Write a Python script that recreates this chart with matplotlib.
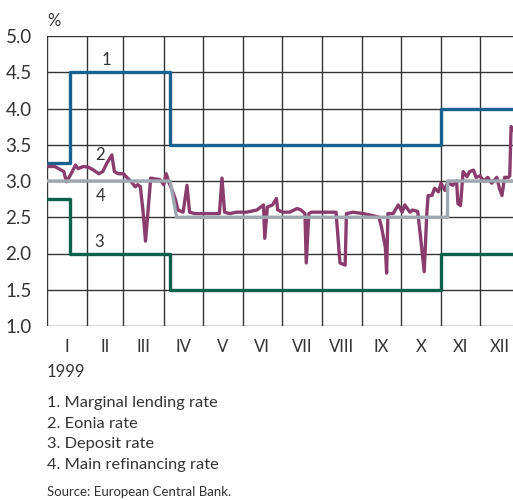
import numpy as np
import matplotlib.pyplot as plt

plt.rcParams['font.family'] = ['Lato', 'DejaVu Sans']

# day of year 1999 (0 = 1 Jan)
month_starts = [0, 31, 59, 90, 120, 151, 181, 212, 243, 273, 304, 334, 365]
month_labels = ['I', 'II', 'III', 'IV', 'V', 'VI', 'VII', 'VIII', 'IX', 'X', 'XI', 'XII']

# standing facilities and MRO (step changes)
lending_days = [0, 18, 95, 304, 362]
lending_vals = [3.25, 4.5, 3.5, 4.0, 4.0]
deposit_days = [0, 18, 95, 304, 362]
deposit_vals = [2.75, 2.0, 1.5, 2.0, 2.0]
mro_days = [0, 95, 100, 309, 309, 362]
mro_vals = [3.0, 3.0, 2.5, 2.5, 3.0, 3.0]

# eonia
eonia_days = [0, 6, 13, 15, 18, 22, 24, 28, 32, 36, 40, 43, 46, 50, 52, 55, 59, 61, 65, 68,
              70, 72, 74, 76, 78, 80, 83, 87, 90, 92, 94, 96, 99, 101, 105, 108, 110, 114, 118, 126,
              133, 135, 137, 141, 146, 154, 162, 167, 168, 170, 174, 177, 178, 182, 187, 193, 196, 199, 200, 202,
              204, 208, 216, 223, 226, 230, 231, 236, 244, 252, 256, 258, 261, 262, 263, 267, 271, 274, 276, 280,
              282, 286, 289, 291, 293, 294, 297, 299, 302, 304, 307, 309, 313, 316, 317, 319, 321, 324, 326, 329,
              331, 334, 337, 340, 343, 347, 349, 351, 353, 356, 357, 358, 360]
eonia_vals = [3.20, 3.20, 3.13, 2.99, 3.08, 3.22, 3.17, 3.20, 3.19, 3.15, 3.10, 3.13, 3.24, 3.36, 3.13, 3.10, 3.10, 3.06, 2.99, 2.92,
              2.95, 2.92, 2.60, 2.17, 2.60, 3.04, 3.03, 3.02, 2.95, 3.10, 2.98, 2.90, 2.75, 2.60, 2.57, 2.94, 2.57, 2.55, 2.55, 2.55,
              2.55, 3.04, 2.57, 2.55, 2.57, 2.57, 2.60, 2.67, 2.21, 2.64, 2.67, 2.76, 2.60, 2.57, 2.57, 2.62, 2.60, 2.55, 1.87, 2.55,
              2.57, 2.57, 2.57, 2.57, 1.87, 1.84, 2.55, 2.57, 2.55, 2.52, 2.50, 2.37, 2.09, 1.73, 2.55, 2.55, 2.67, 2.57, 2.67, 2.57,
              2.60, 2.58, 2.09, 1.75, 2.55, 2.80, 2.80, 2.90, 2.85, 2.97, 2.87, 2.98, 2.94, 3.00, 2.69, 2.66, 3.13, 3.06, 3.13, 3.15,
              3.05, 3.07, 3.00, 3.05, 2.97, 3.05, 2.90, 2.80, 3.05, 3.05, 3.07, 3.75, 3.70]

legend_lines = ['1. Marginal lending rate', '2. Eonia rate', '3. Deposit rate', '4. Main refinancing rate']

text_col = '#333333'
fig = plt.figure(figsize=(5.13, 5.0), dpi=100)
ax = fig.add_axes([47/513, 174/500, 466/513, 290/500])

lw = 2.4
ax.plot(lending_days, lending_vals, drawstyle='steps-post', color='#17628f', lw=lw, zorder=3)
ax.plot(deposit_days, deposit_vals, drawstyle='steps-post', color='#0b6149', lw=lw, zorder=3)
ax.plot(eonia_days, eonia_vals, color='#8a3d6c', lw=lw, zorder=4)
ax.plot(mro_days, mro_vals, color='#9ea8b0', lw=lw, zorder=5)

ax.set_xlim(0, 359.5)
ax.set_ylim(1.0, 5.0)
ax.set_yticks(np.arange(1.0, 5.01, 0.5))
ax.set_yticklabels(['%.1f' % v for v in np.arange(1.0, 5.01, 0.5)], fontsize=13.5, color=text_col)
centers = [(month_starts[i] + month_starts[i + 1]) / 2 for i in range(12)]
ax.set_xticks(centers)
ax.set_xticklabels(month_labels, fontsize=12, color=text_col)
ax.tick_params(length=0, pad=9)
ax.tick_params(axis='y', pad=11)

for d in month_starts[:-1]:
    ax.axvline(d, color='#333333', lw=1, zorder=1)
for v in np.arange(1.0, 5.01, 0.5):
    ax.axhline(v, color='#333333', lw=1, zorder=1)
for s in ax.spines.values():
    s.set_visible(False)

# series numbers
ax.text(46, 4.67, '1', fontsize=12, color=text_col, ha='center', va='center')
ax.text(41, 3.36, '2', fontsize=12, color=text_col, ha='center', va='center')
ax.text(41, 2.80, '4', fontsize=12, color=text_col, ha='center', va='center')
ax.text(40, 2.16, '3', fontsize=12, color=text_col, ha='center', va='center')

fig.text(47/513, 1 - 21/500, '%', fontsize=12, color=text_col, va='center')
fig.text(47/513, 1 - 372/500, '1999', fontsize=12, color=text_col, va='center')
for i, t in enumerate(legend_lines):
    fig.text(47/513, 1 - (403 + i*20.7)/500, t, fontsize=11.8, color=text_col, va='center')
fig.text(47/513, 1 - 492/500, 'Source: European Central Bank.', fontsize=9.5, color=text_col, va='center')

plt.savefig('out.png', dpi=100)
